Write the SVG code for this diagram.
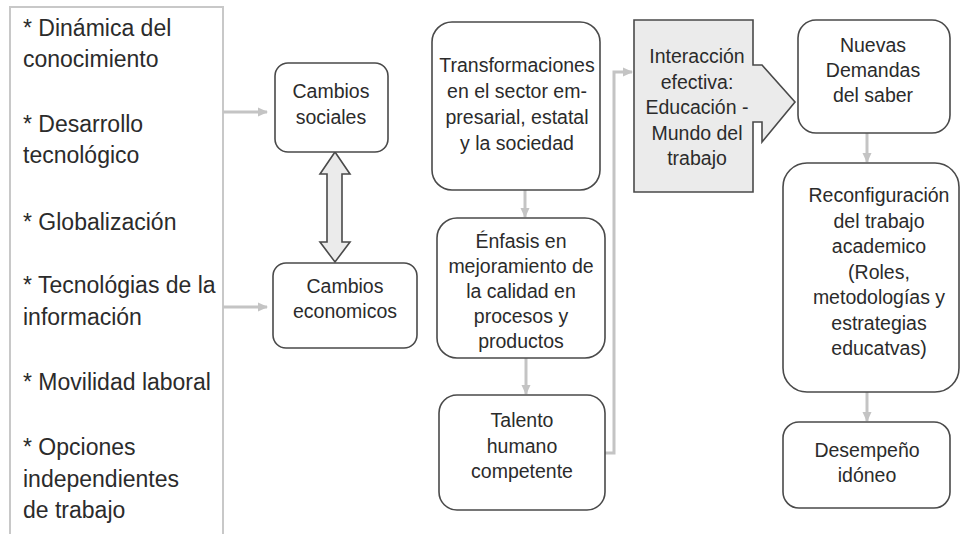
<svg xmlns="http://www.w3.org/2000/svg" width="961" height="534" viewBox="0 0 961 534">
<style>
text{font-family:"Liberation Sans",Arial,sans-serif;fill:#2b2b2b;}
.lst{font-size:23px;}
.bx{font-size:19.5px;text-anchor:middle;}
.node{fill:#fff;stroke:#4a4a4a;stroke-width:1.6;}
.shape{fill:#ebebeb;stroke:#4a4a4a;stroke-width:1.6;stroke-linejoin:miter;}
.con{fill:none;stroke:#c4c4c4;stroke-width:3;}
</style>
<defs>
<marker id="ah" markerUnits="userSpaceOnUse" markerWidth="10" markerHeight="10" viewBox="0 0 10 10" refX="9" refY="5" orient="auto">
<path d="M0,0.5 L10,5 L0,9.5 Z" fill="#c4c4c4"/>
</marker>
</defs>
<g id="factores">
<path d="M10,545 V7 H223 V545" fill="#fff" stroke="#c8c8c8" stroke-width="2"/>
<text class="lst" x="23" y="36">* Dinámica del</text>
<text class="lst" x="23" y="67">conocimiento</text>
<text class="lst" x="23" y="132">* Desarrollo</text>
<text class="lst" x="23" y="163">tecnológico</text>
<text class="lst" x="23" y="230">* Globalización</text>
<text class="lst" x="23" y="293">* Tecnológias de la</text>
<text class="lst" x="23" y="325">información</text>
<text class="lst" x="23" y="390">* Movilidad laboral</text>
<text class="lst" x="23" y="455">* Opciones</text>
<text class="lst" x="23" y="487">independientes</text>
<text class="lst" x="23" y="518">de trabajo</text>
</g>
<g id="connectors">
<line class="con" x1="223" y1="112" x2="267" y2="112" marker-end="url(#ah)"/>
<line class="con" x1="223" y1="307" x2="267" y2="307" marker-end="url(#ah)"/>
<line class="con" x1="525" y1="190" x2="525" y2="217" marker-end="url(#ah)"/>
<line class="con" x1="526" y1="358" x2="526" y2="394" marker-end="url(#ah)"/>
<path class="con" d="M605,453 H614 V72 H632" marker-end="url(#ah)"/>
<line class="con" x1="867" y1="133" x2="867" y2="162" marker-end="url(#ah)"/>
<line class="con" x1="867" y1="392" x2="867" y2="421" marker-end="url(#ah)"/>
<polygon class="shape" points="335,152 350,174 342,174 342,242 350,242 335,262 320,242 327,242 327,174 320,174"/>
</g>
<g id="cambios-sociales">
<rect class="node" x="275" y="63" width="113" height="89" rx="13"/>
<text class="bx" x="331" y="98">Cambios</text>
<text class="bx" x="331" y="124">sociales</text>
</g>
<g id="cambios-economicos">
<rect class="node" x="273" y="263" width="144" height="85" rx="13"/>
<text class="bx" x="345" y="293">Cambios</text>
<text class="bx" x="345" y="318">economicos</text>
</g>
<g id="transformaciones">
<rect class="node" x="432" y="22" width="168" height="168" rx="20"/>
<text class="bx" x="517" y="72">Transformaciones</text>
<text class="bx" x="517" y="98">en el sector em-</text>
<text class="bx" x="517" y="124">presarial, estatal</text>
<text class="bx" x="517" y="150">y la sociedad</text>
</g>
<g id="enfasis">
<rect class="node" x="437" y="218" width="168" height="140" rx="20"/>
<text class="bx" x="521" y="247.5">Énfasis en</text>
<text class="bx" x="521" y="272.5">mejoramiento de</text>
<text class="bx" x="521" y="297.5">la calidad en</text>
<text class="bx" x="521" y="322.5">procesos y</text>
<text class="bx" x="521" y="347.5">productos</text>
</g>
<g id="talento">
<rect class="node" x="439" y="395" width="166" height="115" rx="18"/>
<text class="bx" x="522" y="427">Talento</text>
<text class="bx" x="522" y="453">humano</text>
<text class="bx" x="522" y="478">competente</text>
</g>
<g id="interaccion">
<polygon class="shape" points="634,20 753,20 753,65 762,65 795,102 762,142 762,122 753,122 753,192 634,192"/>
<text class="bx" x="697" y="63">Interacción</text>
<text class="bx" x="697" y="88.5">efectiva:</text>
<text class="bx" x="697" y="114">Educación -</text>
<text class="bx" x="697" y="139.5">Mundo del</text>
<text class="bx" x="697" y="165">trabajo</text>
</g>
<g id="nuevas-demandas">
<rect class="node" x="798" y="20" width="152" height="113" rx="18"/>
<text class="bx" x="873" y="52">Nuevas</text>
<text class="bx" x="873" y="77">Demandas</text>
<text class="bx" x="873" y="102">del saber</text>
</g>
<g id="reconfiguracion">
<rect class="node" x="783" y="163" width="176" height="229" rx="24"/>
<text class="bx" x="879" y="202">Reconfiguración</text>
<text class="bx" x="879" y="227.5">del trabajo</text>
<text class="bx" x="879" y="253">academico</text>
<text class="bx" x="879" y="278.5">(Roles,</text>
<text class="bx" x="879" y="304">metodologías y</text>
<text class="bx" x="879" y="329.5">estrategias</text>
<text class="bx" x="879" y="355">educatvas)</text>
</g>
<g id="desempeno">
<rect class="node" x="783" y="422" width="167" height="86" rx="16"/>
<text class="bx" x="867" y="457">Desempeño</text>
<text class="bx" x="867" y="482">idóneo</text>
</g>
</svg>
